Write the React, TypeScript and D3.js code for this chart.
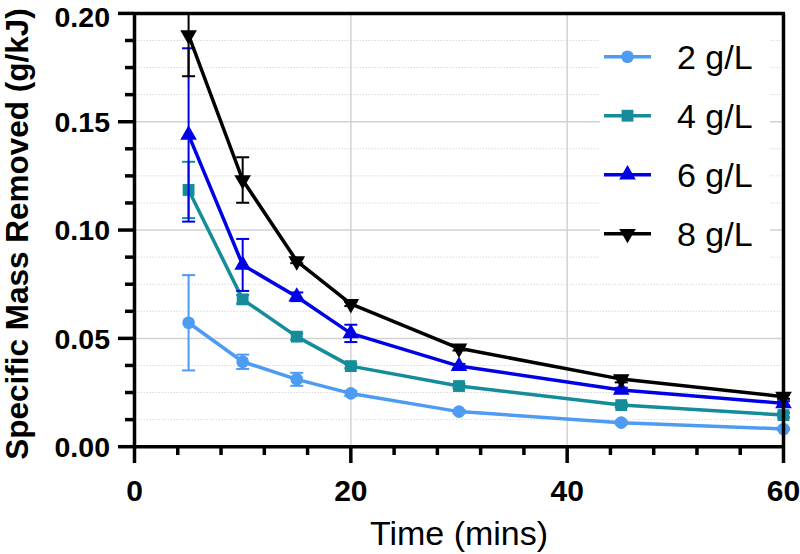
import React from "react";
import * as d3 from "d3";

const times = [5, 10, 15, 20, 30, 45, 60];
const labels = ["2 g/L", "4 g/L", "6 g/L", "8 g/L"];
const s2 = [0.0572, 0.0392, 0.0311, 0.0246, 0.0162, 0.0111, 0.0082];
const e2 = [0.022, 0.0033, 0.003, 0.0012, 0.0008, 0.0008, 0.0005];
const s4 = [0.1185, 0.068, 0.0508, 0.0372, 0.028, 0.0192, 0.0146];
const e4 = [0.013, 0.002, 0.0015, 0.001, 0.001, 0.001, 0.001];
const s6 = [0.1439, 0.0839, 0.0692, 0.0523, 0.0372, 0.0262, 0.02];
const e6 = [0.04, 0.012, 0.002, 0.004, 0.001, 0.001, 0.001];
const s8 = [0.19, 0.1231, 0.0857, 0.0659, 0.0454, 0.0312, 0.0231];
const e8 = [0.019, 0.0105, 0.001, 0.001, 0.001, 0.0015, 0.001];
const xTicks = [0, 20, 40, 60];
const yTicks = [0, 0.05, 0.1, 0.15, 0.2];

const colors = ["#4d9bf2", "#148c9a", "#0000e6", "#000000"];
const symbols = [d3.symbolCircle, d3.symbolSquare, d3.symbolTriangle, d3.symbolTriangle];

export default function App() {
  const x = d3.scaleLinear().domain([0, 60]).range([134.5, 783.5]);
  const y = d3.scaleLinear().domain([0, 0.2]).range([446.7, 13.4]);
  const series = [
    { v: s2, e: e2 },
    { v: s4, e: e4 },
    { v: s6, e: e6 },
    { v: s8, e: e8 },
  ];
  const line = d3
    .line<number>()
    .x((_, i) => x(times[i]))
    .y((d) => y(d));
  const xMinor = d3.range(0, 61, 4).filter((t) => t % 20 !== 0);
  const yMinor = d3.range(0, 0.2001, 0.0125).filter((t) => Math.abs(t / 0.05 - Math.round(t / 0.05)) > 1e-6);
  const font = "'Liberation Sans', Arial, Helvetica, sans-serif";
  const symSizes = [125, 140, 120, 120];
  const mk = (i: number) => d3.symbol().type(symbols[i]).size(symSizes[i])() as string;
  const [x0, x1] = x.range();
  const [y0, y1] = y.range();

  return (
    <svg width={800} height={554} style={{ position: "absolute", left: 0, top: 0, background: "#fff" }} fontFamily={font}>
      {/* grid */}
      {yMinor.map((t) => (
        <line key={"ym" + t} x1={x0} x2={x1} y1={y(t)} y2={y(t)} stroke="#d8d8d8" strokeWidth={1} strokeDasharray="1.5,1.5" />
      ))}
      {yTicks.slice(1, -1).map((t) => (
        <line key={"yg" + t} x1={x0} x2={x1} y1={y(t)} y2={y(t)} stroke="#d2d2d2" strokeWidth={1.5} />
      ))}
      {xTicks.slice(1, -1).map((t) => (
        <line key={"xg" + t} x1={x(t)} x2={x(t)} y1={y0} y2={y1} stroke="#d2d2d2" strokeWidth={1.5} />
      ))}
      {/* legend background */}
      <rect x={600} y={28} width={170} height={232} fill="#fff" />
      {/* series */}
      {series.map((s, si) => (
        <g key={si} stroke={colors[si]} fill={colors[si]}>
          {s.v.map((v, i) => {
            const top = Math.min(v + s.e[i], 0.2);
            const bot = v - s.e[i];
            const cx = x(times[i]);
            return (
              <g key={i} strokeWidth={2}>
                <line x1={cx} x2={cx} y1={y(top)} y2={y(bot)} />
                {v + s.e[i] <= 0.2 && <line x1={cx - 6.5} x2={cx + 6.5} y1={y(top)} y2={y(top)} />}
                <line x1={cx - 6.5} x2={cx + 6.5} y1={y(bot)} y2={y(bot)} />
              </g>
            );
          })}
          <path d={line(s.v) as string} fill="none" strokeWidth={3.5} strokeLinejoin="round" />
          {s.v.map((v, i) => (
            <path
              key={"m" + i}
              d={mk(si)}
              stroke="none"
              transform={`translate(${x(times[i])},${y(v)})${si === 3 ? " rotate(180)" : ""}`}
            />
          ))}
        </g>
      ))}
      {/* frame */}
      <line x1={x0} x2={x1 + 1.5} y1={y1} y2={y1} stroke="#000" strokeWidth={3.5} />
      <line x1={x1} x2={x1} y1={y1} y2={y0} stroke="#000" strokeWidth={3.5} />
      <line x1={x0} x2={x0} y1={y1 - 1.5} y2={y0 + 1.5} stroke="#000" strokeWidth={3.5} />
      <line x1={x0 - 1.5} x2={x1 + 1.5} y1={y0} y2={y0} stroke="#000" strokeWidth={3.5} />
      {/* y ticks */}
      {yTicks.map((t) => (
        <g key={"yt" + t}>
          <line x1={118} x2={x0} y1={y(t)} y2={y(t)} stroke="#000" strokeWidth={3.5} />
          <text x={110} y={Math.max(y(t), 16.5)} dy="0.36em" textAnchor="end" fontWeight="bold" fontSize={28.5}>
            {d3.format(".2f")(t)}
          </text>
        </g>
      ))}
      {yMinor.map((t) => (
        <line key={"ymt" + t} x1={125} x2={x0} y1={y(t)} y2={y(t)} stroke="#000" strokeWidth={3.5} />
      ))}
      {/* x ticks */}
      {xTicks.map((t) => (
        <g key={"xt" + t}>
          <line x1={x(t)} x2={x(t)} y1={y0} y2={463} stroke="#000" strokeWidth={3.5} />
          <text x={x(t)} y={490} dy="0.36em" textAnchor="middle" fontWeight="bold" fontSize={30}>
            {t}
          </text>
        </g>
      ))}
      {xMinor.map((t) => (
        <line key={"xmt" + t} x1={x(t)} x2={x(t)} y1={y0} y2={455} stroke="#000" strokeWidth={3.5} />
      ))}
      {/* axis titles */}
      <text x={459} y={533} dy="0.36em" textAnchor="middle" fontSize={34}>
        Time (mins)
      </text>
      <text transform="translate(17,234) rotate(-90)" dy="0.36em" textAnchor="middle" fontWeight="bold" fontSize={31.5}>
        Specific Mass Removed (g/kJ)
      </text>
      {/* legend */}
      {labels.map((l, i) => {
        const ly = 56.7 + i * 59;
        return (
          <g key={l}>
            <line x1={604} x2={651} y1={ly} y2={ly} stroke={colors[i]} strokeWidth={3.5} />
            <path d={mk(i)} fill={colors[i]} transform={`translate(627.5,${ly})${i === 3 ? " rotate(180)" : ""}`} />
            <text x={677} y={ly} dy="0.36em" fontSize={34}>
              {l}
            </text>
          </g>
        );
      })}
    </svg>
  );
}
